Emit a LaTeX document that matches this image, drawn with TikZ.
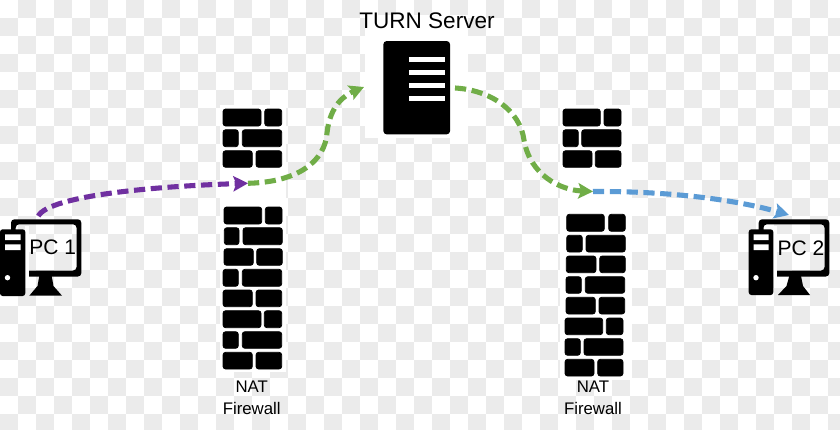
\documentclass[tikz,border=0pt]{standalone}
\usepackage{fontspec}
\setmainfont{Liberation Sans}
\usetikzlibrary{arrows.meta}
\definecolor{checker}{HTML}{EBEBEB}
\definecolor{flowpurple}{HTML}{7030A0}
\definecolor{flowgreen}{HTML}{70AD47}
\definecolor{flowblue}{HTML}{5B9BD5}
\tikzset{
  brick/.style={fill=black,draw=black,line width=0.6pt,rounded corners=2pt},
  halo/.style={fill=white},
  flow/.style={line width=3.8pt,dash pattern=on 8.4pt off 4.2pt},
  flowtip/.style={-{Stealth[length=11pt,width=11.5pt,inset=2.2pt]}},
  caption/.style={font=\fontsize{12.6pt}{15pt}\selectfont,align=center,text=black,inner sep=0pt},
  pclabel/.style={font=\fontsize{15.75pt}{18pt}\selectfont,inner sep=0pt,text=black},
  slot/.style={fill=white}
}
\newcommand{\brk}[4]{\filldraw[brick] (#1,#2) rectangle (#3,#4);}
\begin{document}
\begin{tikzpicture}[x=0.75pt,y=-0.75pt]
\useasboundingbox (0,0) rectangle (840,429);
\fill[white] (0,0) rectangle (840,429);
\foreach \i in {0,...,46}{\foreach \j in {0,...,23}{%
  \pgfmathtruncatemacro{\p}{mod(\i+\j,2)}%
  \ifnum\p=1 \fill[checker] (\i*18,\j*18) rectangle (\i*18+18,\j*18+18);\fi}}
% white halos
\fill[halo] (365,15) rectangle (468,138);
\fill[halo] (220,105) rectangle (286,372);
\fill[halo] (560,105) rectangle (632,380);
% left wall, upper part
\brk{223}{109}{261}{126}\brk{264.7}{109}{281.7}{126}
\brk{223}{129.7}{238.3}{146.7}\brk{242.3}{129.7}{281.7}{146.7}
\brk{223}{150.7}{252.3}{167.3}\brk{256}{150.7}{281.7}{167.3}
% left wall, lower part
\brk{224}{207}{261.7}{224}\brk{265.3}{207}{282}{224}
\brk{224.3}{227.7}{239}{244.7}\brk{243}{227.7}{282.3}{244.7}
\brk{224}{248.7}{253.3}{265.3}\brk{256.7}{248.7}{282.3}{265.3}
\brk{223}{269.3}{238.3}{286.3}\brk{242.3}{269.3}{281.7}{286.3}
\brk{223}{290}{252.3}{306.7}\brk{256}{290}{281.7}{306.7}
\brk{223}{310.7}{261}{327.7}\brk{264.3}{310.7}{281.7}{327.7}
\brk{223}{331.7}{238.3}{348.3}\brk{242.3}{331.7}{281.7}{348.3}
\brk{223}{352.3}{252.3}{369}\brk{256}{352.3}{281.7}{369}
% right wall, upper part
\brk{563}{109}{600.3}{126}\brk{604}{109}{621}{126}
\brk{563}{129.7}{578.3}{146.7}\brk{581.7}{129.7}{621}{146.7}
\brk{563}{150.7}{592}{167.3}\brk{595.3}{150.7}{621}{167.3}
% right wall, lower part
\brk{566.7}{214.3}{604.3}{231.3}\brk{608.7}{214.3}{625.3}{231.3}
\brk{566.7}{235.3}{582.3}{252}\brk{586}{235.3}{625.3}{252}
\brk{566.3}{256}{596}{272.7}\brk{599.7}{256}{625.3}{272.7}
\brk{566}{276.7}{581.3}{293.3}\brk{585.3}{276.7}{624.7}{293.3}
\brk{566}{297.3}{595.3}{314}\brk{599}{297.3}{624.7}{314}
\brk{565}{318}{602.7}{334.7}\brk{606.3}{318}{623}{334.7}
\brk{565}{338.7}{580.3}{355.3}\brk{584}{338.7}{623}{355.3}
\brk{565}{359.3}{594}{376}\brk{597.7}{359.3}{623}{376}
% server
\node[fill=black,rounded corners=2.5pt,minimum width=66.7*0.75pt,minimum height=93.3*0.75pt,inner sep=0pt] (server) at (416.7,87.7) {};
\foreach \y in {56.7,69.7,82.7,95.7}{\fill[slot] (408.7,\y) rectangle (445,\y+5.3);}
\node[font=\fontsize{16.9pt}{20pt}\selectfont,inner sep=0pt,text=black] (turn) at (427,21) {TURN Server};
% PC 1
\fill[black,rounded corners=2.5pt,even odd rule] (11,219.3) rectangle (81.3,276.5) (15.7,224.3) rectangle (76.5,270.5);
\fill[black] (39.3,276) -- (51.7,276) -- (53.5,286) -- (62,295.7) -- (29.3,295.7) -- (37.5,286) -- cycle;
\fill[white] (25.3,226) rectangle (29,277);
\fill[black,rounded corners=2pt] (0,229.3) rectangle (25.3,296);
\fill[slot] (5,234.3) rectangle (20.5,240) (5,244.3) rectangle (20.5,250);
\fill[white] (7.5,277.7) circle[radius=2.7];
\node[pclabel] (pc1) at (52.7,247) {PC 1};
% PC 2
\fill[black,rounded corners=2.5pt,even odd rule] (758.7,219.3) rectangle (829.3,276.5) (763.5,224.3) rectangle (824.5,270.5);
\fill[black] (789.3,276) -- (801,276) -- (803,286) -- (810,295) -- (778,295) -- (786.5,286) -- cycle;
\fill[white] (773.3,226) rectangle (777,277);
\fill[black,rounded corners=2pt] (748.7,229.3) rectangle (773.3,295);
\fill[slot] (753.7,234.3) rectangle (768.7,240) (753.7,244.3) rectangle (768.7,250);
\fill[white] (756,277.7) circle[radius=2.7];
\node[pclabel] (pc2) at (801,248.3) {PC 2};
% captions
\node[caption] (nat1) at (251.7,398) {NAT\\[1.5pt]Firewall};
\node[caption] (nat2) at (593,398) {NAT\\[1.5pt]Firewall};
% connector ends
\coordinate (pc1out) at (38.3,216);
\coordinate (wall1) at (248,183.3);
\coordinate (srvin) at (364,87);
\coordinate (srvout) at (455,88);
\coordinate (wall2) at (593,191.5);
\coordinate (pc2in) at (789,215);
% connectors
\draw[flow,flowgreen,flowtip] (wall1) .. controls (300,182) and (325,160) .. (327,133) .. controls (330,105) and (345,95) .. (srvin);
\draw[flow,flowblue,flowtip] (wall2) .. controls (660,191) and (730,198) .. (pc2in);
\draw[flow,flowpurple,flowtip] (pc1out) .. controls (50,195) and (160,186) .. (wall1);
\draw[flow,flowgreen,flowtip] (srvout) .. controls (490,90) and (520,110) .. (524,140) .. controls (530,175) and (560,190) .. (wall2);
\end{tikzpicture}
\end{document}
